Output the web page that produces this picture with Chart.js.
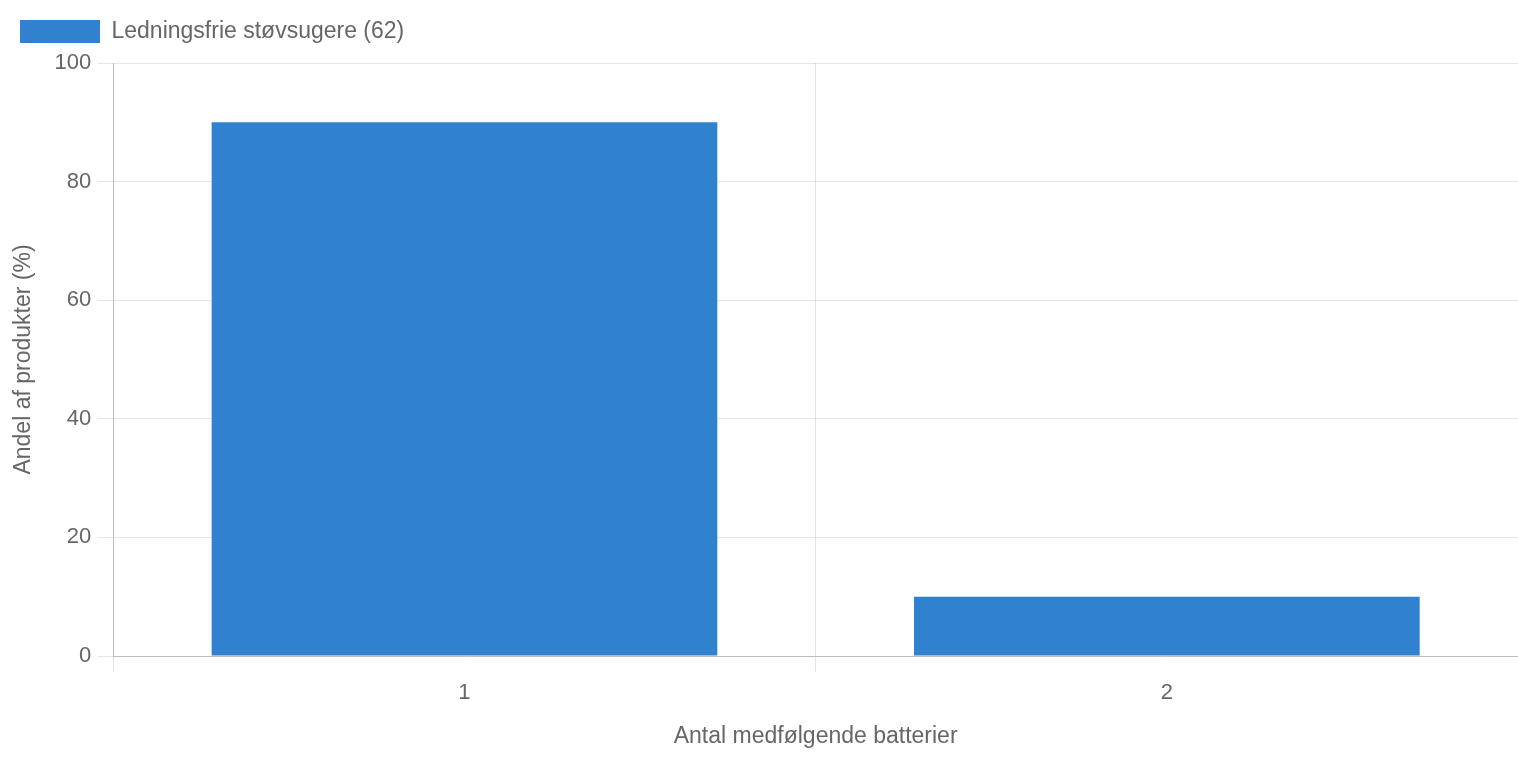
<!DOCTYPE html>
<html>
<head>
<meta charset="utf-8">
<script src="https://cdn.jsdelivr.net/npm/chart.js@4"></script>
<style>
  html, body { margin: 0; padding: 0; background: #fff; }
  #wrap { position: relative; width: 1518px; height: 758px; }
</style>
</head>
<body>
<div id="wrap"><canvas id="chart"></canvas></div>
<script>
const categories = ['1', '2'];
const shares = [90, 10];
const seriesLabel = 'Ledningsfrie støvsugere (62)';
const yTicks = [0, 20, 40, 60, 80, 100];

const family = '"Liberation Sans", Arial, sans-serif';
const tickFont = { family, size: 22 };
const textFont = { family, size: 23 };
Chart.defaults.font = tickFont;
Chart.defaults.color = '#666';

// a bit more room under the legend
const legendGap = {
  id: 'legendGap',
  beforeInit(chart) {
    const fit = chart.legend.fit;
    chart.legend.fit = function () {
      fit.call(this);
      this.height += 10;
    };
  },
};

new Chart(document.getElementById('chart'), {
  type: 'bar',
  data: {
    labels: categories,
    datasets: [{
      label: seriesLabel,
      data: shares,
      backgroundColor: '#3182CE',
      borderColor: '#3182CE',
      borderWidth: 0,
    }],
  },
  options: {
    responsive: true,
    maintainAspectRatio: false,
    animation: false,
    layout: { padding: { left: 4, right: 0, top: 4, bottom: 4 } },
    plugins: {
      legend: {
        align: 'start',
        labels: { boxWidth: 80, boxHeight: 23, padding: 16, font: textFont },
      },
      tooltip: { enabled: false },
    },
    scales: {
      x: {
        grid: { tickLength: 16, color: 'rgba(0,0,0,0.1)' },
        border: { color: 'rgba(0,0,0,0.18)' },
        ticks: { padding: 8, font: tickFont },
        title: { display: true, text: 'Antal medfølgende batterier', font: textFont, padding: { top: 8 } },
      },
      y: {
        min: yTicks[0],
        max: yTicks[yTicks.length - 1],
        grid: { tickLength: 16, color: 'rgba(0,0,0,0.1)' },
        border: { color: 'rgba(0,0,0,0.18)' },
        ticks: { stepSize: yTicks[1] - yTicks[0], padding: 6, font: tickFont },
        title: { display: true, text: 'Andel af produkter (%)', font: textFont, padding: { top: 6, bottom: 11 } },
      },
    },
  },
  plugins: [legendGap],
});
</script>
</body>
</html>
